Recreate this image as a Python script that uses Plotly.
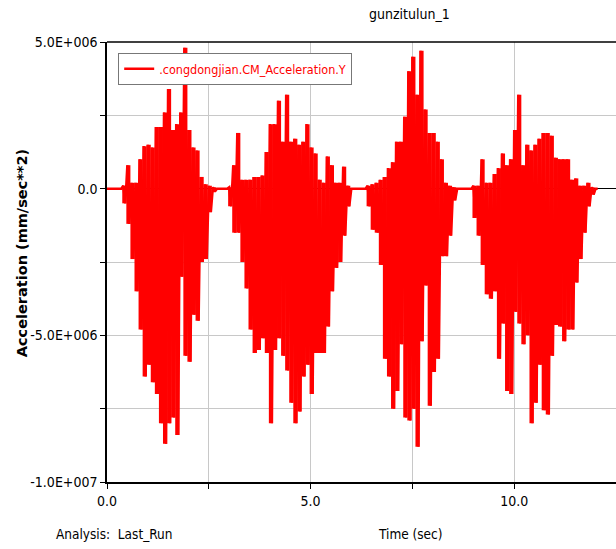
import numpy as np
import plotly.graph_objects as go

# ---- data (units: 1e6 mm/sec**2) ----
slot_start = 0.0   # sec
slot_step = 0.1    # sec; each slot holds one positive and one negative swing
upper_peak_e6 = [
    0, 0, 0, 0, 0.1, 0.8, 0.2, 0.2, 1.0, 1.45,
    1.5, 1.4, 2.1, 2.1, 2.6, 3.4, 2.0, 2.2, 2.6, 4.8,
    2.0, 1.4, 1.3, 0.4, 0.15, 0.1, 0.05, 0, 0, 0,
    0.05, 0.8, 1.9, 0.3, 0.3, 0.3, 0.4, 0.4, 0.45, 1.25,
    2.2, 2.2, 3.0, 1.6, 3.2, 1.6, 1.7, 1.5, 1.6, 2.2,
    1.4, 1.2, 0.3, 0.2, 1.1, 0.8, 0.2, 0.2, 0.75, 0.1,
    0, 0, 0, 0, 0.1, 0.15, 0.2, 0.3, 0.4, 0.7,
    0.9, 1.6, 1.6, 2.45, 4.0, 4.5, 3.2, 4.7, 2.7, 1.9,
    1.9, 1.6, 1.0, 0.2, 0.1, 0.05, 0, 0, 0, 0,
    0.1, 0.1, 1.0, 0.2, 0.2, 0.5, 0.7, 1.2, 0.8, 1.0,
    2.0, 3.2, 0.8, 1.5, 1.3, 1.5, 1.7, 1.9, 1.9, 1.8,
    1.05, 1.0, 1.0, 1.0, 0.3, 0.35, 0.1, 0.1, 0.2, 0.05,
    0,
]
lower_peak_e6 = [
    0, 0, 0, 0, -0.5, -1.2, -2.4, -3.5, -4.8, -6.4,
    -6.0, -6.6, -7.0, -8.0, -8.7, -8.0, -7.8, -8.4, -3.0, -5.7,
    -5.9, -4.3, -4.5, -2.5, -2.4, -0.8, -0.1, 0, 0, 0,
    -0.6, -1.5, -1.5, -2.5, -3.4, -4.8, -5.6, -5.5, -5.1, -5.6,
    -8.0, -5.5, -5.1, -5.7, -6.2, -7.3, -8.0, -7.6, -6.4, -6.0,
    -7.0, -5.6, -5.6, -5.6, -4.7, -3.5, -2.7, -2.5, -1.6, -0.6,
    0, 0, 0, 0, -0.6, -1.4, -1.5, -2.6, -5.8, -6.4,
    -7.5, -6.9, -5.3, -7.8, -7.9, -7.5, -8.8, -5.2, -3.3, -7.4,
    -6.25, -5.8, -2.3, -2.3, -1.6, -0.4, 0, 0, 0, 0,
    -1.0, -1.6, -2.6, -3.6, -3.75, -3.5, -5.8, -4.6, -6.9, -7.0,
    -4.2, -4.6, -5.3, -5.0, -8.0, -7.3, -6.0, -7.55, -7.7, -5.7,
    -4.65, -4.7, -5.2, -4.8, -4.8, -3.2, -2.4, -1.5, -0.6, -0.2,
    0,
]

series_name = ".congdongjian.CM_Acceleration.Y"
chart_title = "gunzitulun_1"
y_title = "Acceleration (mm/sec**2)"
x_title = "Time (sec)"
analysis_text = "Analysis:  Last_Run"

y_tick_values = [-1.0e7, -7.5e6, -5.0e6, -2.5e6, 0.0, 2.5e6, 5.0e6]
y_tick_labels = ["-1.0E+007", "", "-5.0E+006", "", "0.0", "", "5.0E+006"]
x_tick_values = [0.0, 2.5, 5.0, 7.5, 10.0, 12.5]
x_tick_labels = ["0.0", "", "5.0", "", "10.0", ""]

# ---- build the oscillating trace: positive swing then negative swing per slot ----
upper = np.array(upper_peak_e6) * 1e6
lower = np.array(lower_peak_e6) * 1e6
n = len(upper)
slot_t = slot_start + slot_step * np.arange(n)
xs = np.empty(2 * n)
ys = np.empty(2 * n)
xs[0::2] = slot_t
xs[1::2] = slot_t + slot_step / 2
ys[0::2] = upper
ys[1::2] = lower

NARROW = "Liberation Sans Narrow, Arial Narrow, DejaVu Sans Condensed, sans-serif"
RED = "#ff0000"

fig = go.Figure()
# dense swing band of each slot (solid body of the signal)
fig.add_trace(go.Bar(
    x=slot_t + slot_step / 4, base=lower, y=upper - lower, width=slot_step,
    marker=dict(color=RED, line=dict(width=0)), showlegend=False, hoverinfo="skip",
))
fig.add_trace(go.Scatter(
    x=xs, y=ys, mode="lines", name=series_name,
    line=dict(color=RED, width=2.5),
))

fig.update_layout(
    width=616, height=549, autosize=False,
    margin=dict(l=107, r=0, t=42, b=67),
    paper_bgcolor="white", plot_bgcolor="white",
    showlegend=True, barmode="overlay",
    legend=dict(
        x=0.022, y=0.975, xanchor="left", yanchor="top",
        bgcolor="white", bordercolor="#777777", borderwidth=1,
        font=dict(family=NARROW, size=12.5, color=RED),
        itemwidth=30,
    ),
    xaxis=dict(
        range=[0, 12.5], tickmode="array",
        tickvals=x_tick_values, ticktext=x_tick_labels,
        showgrid=True, gridcolor="#c8c8c8", gridwidth=1,
        showline=True, linecolor="black", linewidth=2,
        ticks="outside", ticklen=5, tickcolor="black",
        tickfont=dict(family=NARROW, size=14, color="black"),
        zeroline=False,
    ),
    yaxis=dict(
        range=[-1.0e7, 5.0e6], tickmode="array",
        tickvals=y_tick_values, ticktext=y_tick_labels,
        showgrid=True, gridcolor="#c8c8c8", gridwidth=1,
        showline=True, linecolor="black", linewidth=1.5,
        ticks="outside", ticklen=5, tickcolor="black",
        tickfont=dict(family=NARROW, size=14, color="black"),
        zeroline=True, zerolinecolor="black", zerolinewidth=1,
    ),
    shapes=[dict(type="line", xref="paper", yref="paper", x0=0, x1=1, y0=1, y1=1,
                 line=dict(color="black", width=1.5))],
    annotations=[
        dict(text=chart_title, xref="paper", yref="paper", x=0.595, y=1, yshift=18,
             xanchor="center", yanchor="bottom", showarrow=False,
             font=dict(family=NARROW, size=14, color="black")),
        dict(text="<b>" + y_title + "</b>", xref="paper", yref="paper", x=-0.167, y=0.52,
             textangle=-90, xanchor="center", yanchor="middle", showarrow=False,
             font=dict(family="DejaVu Sans", size=14.5, color="black")),
        dict(text=x_title, xref="paper", yref="paper", x=0.597, y=0, yshift=-52,
             xanchor="center", yanchor="middle", showarrow=False,
             font=dict(family=NARROW, size=13.5, color="black")),
        dict(text=analysis_text, xref="paper", yref="paper", x=-0.105, y=0, yshift=-52,
             xanchor="left", yanchor="middle", showarrow=False,
             font=dict(family=NARROW, size=13.5, color="black")),
    ],
)

fig.write_html("out.html", config={"displayModeBar": False},
               post_script="document.body.style.margin='0';")
